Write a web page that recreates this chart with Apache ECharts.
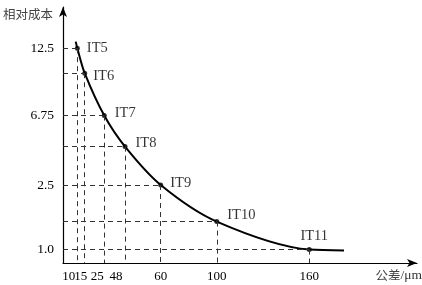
<!DOCTYPE html>
<html><head><meta charset="utf-8">
<script src="https://cdn.jsdelivr.net/npm/echarts@6/dist/echarts.min.js"></script>
<style>html,body{margin:0;padding:0;background:#fff}#c{width:422px;height:285px}</style>
</head><body><div id="c"></div>
<script>
// Tolerance grades and their tick labels
const grades = ['IT5', 'IT6', 'IT7', 'IT8', 'IT9', 'IT10', 'IT11'];
const toleranceLabels = ['10', '15', '25', '48', '60', '100', '160'];
const costLabels = ['12.5', '', '6.75', '', '2.5', '', '1.0'];
// Where each grade point sits on the (schematic) axes
const gradeX = [9.3, 14.1, 26.8, 40.3, 63.5, 99.9, 160.0];
const gradeY = [10.74, 9.49, 7.37, 5.82, 3.90, 2.07, 0.67];
// Ends of the cost curve beyond IT5 and IT11
const curveStart = [8.25, 11.07];
const curveEnd = [182.6, 0.63];

const serif = 'Liberation Serif';
const cjk = 'Noto Sans CJK SC';

const points = gradeX.map((x, i) => [x, gradeY[i]]);
const curve = [curveStart].concat(points, [curveEnd]);

// label placement per grade (style only)
const labelPlace = [
  {position: 'right', distance: 7, offset: [0, 0]},
  {position: 'right', distance: 6, offset: [0, 3]},
  {position: 'right', distance: 8, offset: [0, -2]},
  {position: 'right', distance: 8, offset: [0, -3]},
  {position: 'right', distance: 7, offset: [0, -2]},
  {position: 'right', distance: 8, offset: [0, -6]},
  {position: 'top', distance: 3, offset: [5, 0]}
];
// x tick label shift (style only): right padding moves label left
const xPad = [17, 8, 14, 18, 0, 0, 0];

const guideLines = [];
points.forEach((p, i) => {
  guideLines.push([{coord: [0, p[1]]}, {coord: [p[0], p[1]]}]);
  guideLines.push([
    {coord: [p[0], p[1]]},
    {
      coord: [p[0], 0],
      label: {
        show: true, position: 'end', distance: 7,
        formatter: '{t|' + toleranceLabels[i] + '}',
        rich: {t: {fontFamily: serif, fontSize: 13, color: '#000', padding: [0, xPad[i], 0, 0]}}
      }
    }
  ]);
});

const chart = echarts.init(document.getElementById('c'), null, {renderer: 'canvas'});
chart.setOption({
  animation: false,
  backgroundColor: '#fff',
  grid: {left: 63, right: 5, top: 7, bottom: 22, containLabel: false, outerBoundsMode: 'none'},
  xAxis: {
    type: 'value', min: 0, max: 230,
    name: '{a|公差}{b|/μm}',
    nameLocation: 'end', nameGap: 5,
    nameTextStyle: {
      align: 'right', verticalAlign: 'top', padding: [5, 0, 0, 0],
      rich: {a: {fontFamily: cjk, fontSize: 12.5, color: '#444'}, b: {fontFamily: serif, fontSize: 13.5, color: '#333'}}
    },
    axisLine: {show: true, onZero: false, symbol: ['none', 'arrow'], symbolSize: [6, 10], lineStyle: {color: '#000', width: 1.2}},
    axisTick: {show: false},
    splitLine: {show: false},
    axisLabel: {show: false}
  },
  yAxis: {
    type: 'value', min: 0, max: 12.8,
    name: '相对成本',
    nameLocation: 'end', nameGap: -7,
    nameTextStyle: {align: 'right', verticalAlign: 'middle', padding: [0, 10, 0, 0], fontFamily: cjk, fontSize: 12.5, color: '#444'},
    axisLine: {show: true, onZero: false, symbol: ['none', 'arrow'], symbolSize: [6, 10], lineStyle: {color: '#000', width: 1.2}},
    axisTick: {show: false},
    splitLine: {show: false},
    axisLabel: {
      customValues: gradeY.filter((v, i) => costLabels[i] !== ''),
      interval: 0,
      hideOverlap: false,
      margin: 9,
      fontFamily: serif, fontSize: 13.5, color: '#000',
      formatter: v => { const i = gradeY.indexOf(v); return i < 0 ? '' : costLabels[i]; }
    }
  },
  series: [
    {
      type: 'line', data: curve, smooth: 0.3,
      showSymbol: false, silent: true,
      lineStyle: {color: '#000', width: 2}, z: 3
    },
    {
      type: 'scatter', z: 4,
      data: points.map((p, i) => ({
        value: p, name: grades[i],
        label: Object.assign({show: true, formatter: grades[i], fontFamily: serif, fontSize: 14.5, color: '#000'}, labelPlace[i])
      })),
      symbolSize: 5,
      itemStyle: {color: '#000'},
      markLine: {
        silent: true, symbol: ['none', 'none'], animation: false,
        label: {show: false},
        lineStyle: {type: [5, 4], color: '#333', width: 1},
        data: guideLines
      }
    }
  ]
});
</script>
</body></html>
